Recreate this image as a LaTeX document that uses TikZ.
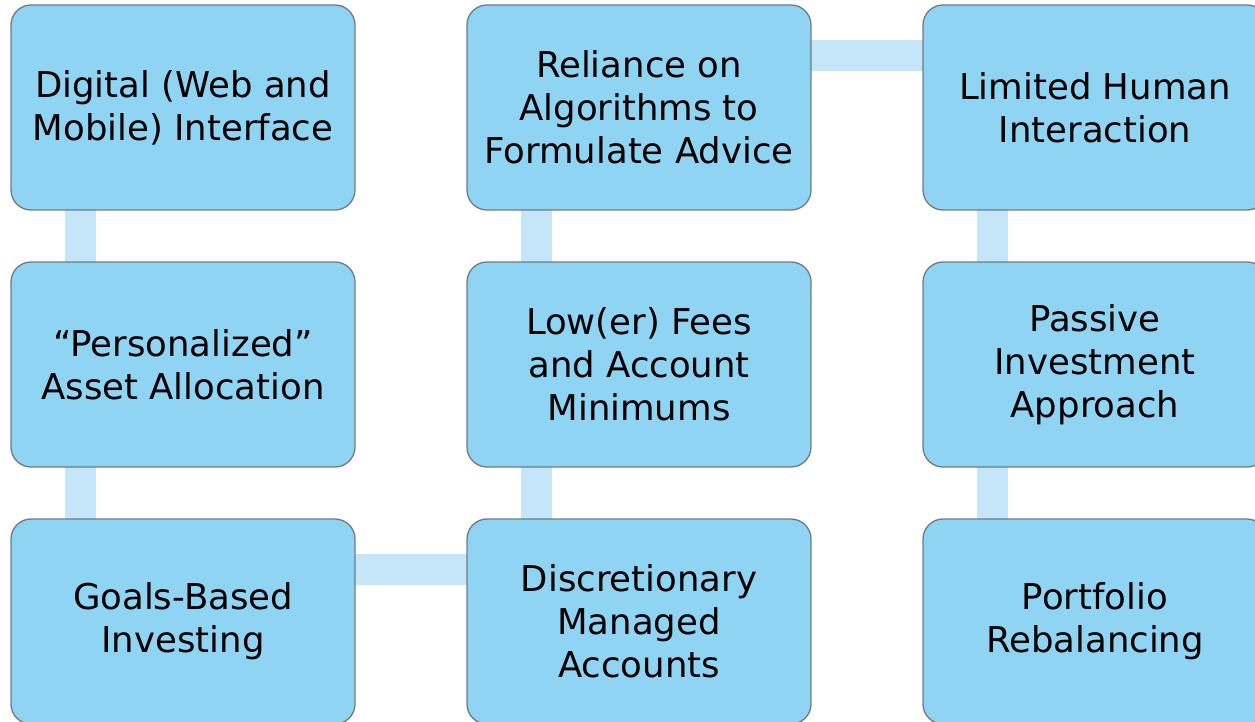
\documentclass[tikz,border=0pt]{standalone}
\usepackage{fontspec}
\setmainfont{DejaVu Sans}
\usetikzlibrary{backgrounds}
\definecolor{boxfill}{HTML}{8FD4F3}
\definecolor{boxline}{HTML}{6E7B85}
\definecolor{linkfill}{HTML}{C5E6F8}
\tikzset{
  feature/.style={draw=boxline, line width=1.3pt, fill=boxfill, rounded corners=20pt,
    minimum width=344pt, minimum height=205pt, inner sep=0pt, align=center,
    font=\fontsize{35.5}{43}\selectfont, text=black},
  link/.style={draw=linkfill, line width=31pt}
}
\begin{document}
\begin{tikzpicture}[x=1pt, y=-1pt]
\useasboundingbox (0,0) rectangle (1255,722);
\node[feature] (digital) at (183,107.5) {Digital (Web and\\Mobile) Interface};
\node[feature] (personal) at (183,364.5) {“Personalized”\\Asset Allocation};
\node[feature] (goals) at (183,621.5) {Goals-Based\\Investing};
\node[feature] (reliance) at (639,107.5) {Reliance on\\Algorithms to\\Formulate Advice};
\node[feature] (fees) at (639,364.5) {Low(er) Fees\\and Account\\Minimums};
\node[feature] (discr) at (639,621.5) {Discretionary\\Managed\\Accounts};
\node[feature] (human) at (1095,107.5) {Limited Human\\Interaction};
\node[feature] (passive) at (1095,364.5) {Passive\\Investment\\Approach};
\node[feature] (rebal) at (1095,621.5) {Portfolio\\Rebalancing};
\begin{scope}[on background layer]
  \draw[link] ([xshift=-103pt]digital.center) -- ([xshift=-103pt]personal.center);
  \draw[link] ([xshift=-103pt]personal.center) -- ([xshift=-103pt]goals.center);
  \draw[link] ([yshift=52.5pt]goals.center) -- ([yshift=52.5pt]discr.center);
  \draw[link] ([xshift=-103pt]discr.center) -- ([xshift=-103pt]fees.center);
  \draw[link] ([xshift=-103pt]fees.center) -- ([xshift=-103pt]reliance.center);
  \draw[link] ([yshift=52pt]reliance.center) -- ([yshift=52pt]human.center);
  \draw[link] ([xshift=-103pt]human.center) -- ([xshift=-103pt]passive.center);
  \draw[link] ([xshift=-103pt]passive.center) -- ([xshift=-103pt]rebal.center);
\end{scope}
\end{tikzpicture}
\end{document}
